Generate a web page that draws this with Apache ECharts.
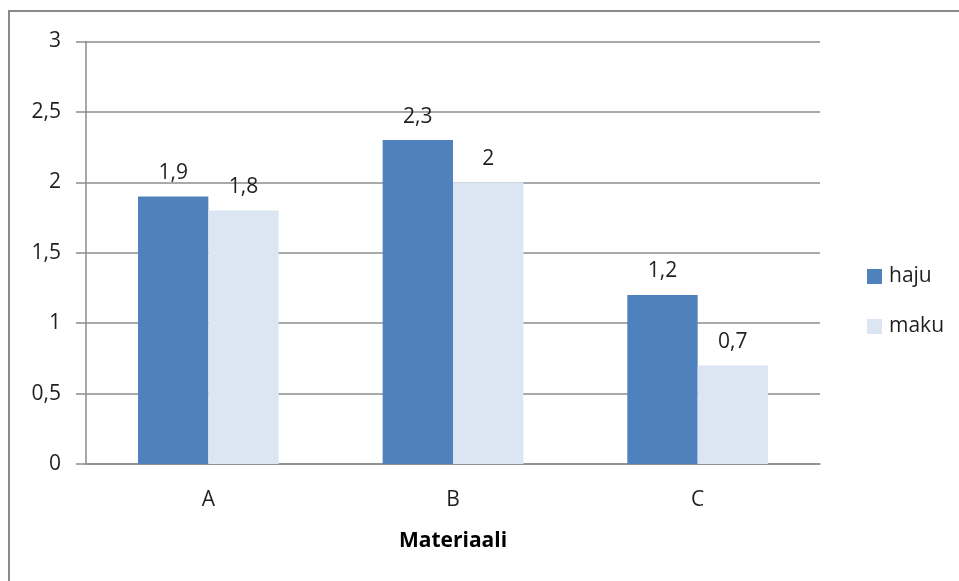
<!DOCTYPE html>
<html>
<head>
<meta charset="utf-8">
<script src="https://cdn.jsdelivr.net/npm/echarts@6/dist/echarts.min.js"></script>
<style>
  html, body { margin: 0; padding: 0; background: #fff; }
  #chart { width: 959px; height: 581px; }
</style>
</head>
<body>
<div id="chart"></div>
<script>
// Materials and the two measured scores per material
const categories = ['A', 'B', 'C'];
const hajuValues = [1.9, 2.3, 1.2];
const makuValues = [1.8, 2.0, 0.7];
const seriesNames = ['haju', 'maku'];
const yTicks = [0, 0.5, 1, 1.5, 2, 2.5, 3];

const FONT = '"Open Sans", "Noto Sans", sans-serif';
const TEXT = '#1f1f1f';
const GRID = '#8c8c8c';

// Decimal comma for all displayed numbers
const fmt = v => String(v).replace('.', ',');

const chart = echarts.init(document.getElementById('chart'), null, { renderer: 'canvas' });

const labelStyle = {
  show: true,
  position: 'top',
  distance: 13,
  color: TEXT,
  fontFamily: FONT,
  fontSize: 21,
  formatter: p => fmt(p.value)
};

chart.setOption({
  animation: false,
  backgroundColor: '#fff',
  graphic: [{
    type: 'rect',
    shape: { x: 9, y: 11, width: 1000, height: 620 },
    style: { fill: 'none', stroke: '#8a8a8a', lineWidth: 2 },
    silent: true,
    z: -1
  }],
  grid: { left: 86, right: 139, top: 41.5, bottom: 117, containLabel: false },
  legend: {
    orient: 'vertical',
    left: 862,
    top: 261,
    itemWidth: 15,
    itemHeight: 15,
    itemGap: 29,
    icon: 'rect',
    textStyle: { color: TEXT, fontFamily: FONT, fontSize: 21, padding: [0, 0, 0, 2] },
    data: seriesNames
  },
  xAxis: {
    type: 'category',
    data: categories,
    name: 'Materiaali',
    nameLocation: 'middle',
    nameGap: 67,
    nameTextStyle: { color: '#000', fontFamily: FONT, fontSize: 21, fontWeight: 'bold' },
    axisLine: { show: true, lineStyle: { color: GRID, width: 1.5 } },
    axisTick: { show: false },
    axisLabel: { color: TEXT, fontFamily: FONT, fontSize: 21, margin: 26 }
  },
  yAxis: {
    type: 'value',
    min: 0,
    max: 3,
    interval: 0.5,
    axisLine: { show: true, lineStyle: { color: GRID, width: 1.5 } },
    axisTick: { show: true, length: 10, inside: false, lineStyle: { color: GRID, width: 1.5 } },
    axisLabel: {
      color: TEXT, fontFamily: FONT, fontSize: 21, margin: 25,
      formatter: v => yTicks.includes(v) ? fmt(v) : ''
    },
    splitLine: { show: true, lineStyle: { color: GRID, width: 1.5 } }
  },
  series: [
    {
      name: seriesNames[0],
      type: 'bar',
      data: hajuValues,
      barGap: '0%',
      barCategoryGap: '42.5%',
      itemStyle: { color: '#4f81bd' },
      label: labelStyle
    },
    {
      name: seriesNames[1],
      type: 'bar',
      data: makuValues,
      itemStyle: { color: '#dce6f2' },
      label: labelStyle
    }
  ]
});
</script>
</body>
</html>
